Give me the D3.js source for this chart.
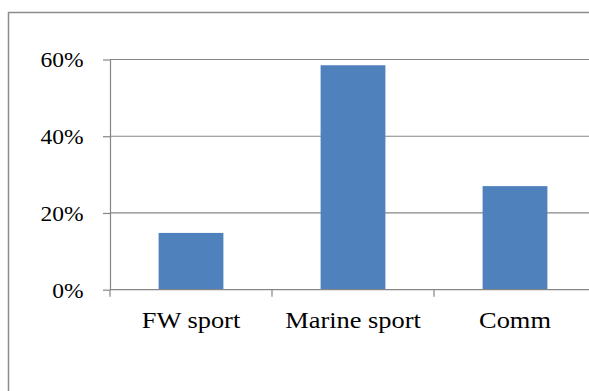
<!DOCTYPE html>
<html>
<head>
<meta charset="utf-8">
<script src="https://cdn.jsdelivr.net/npm/d3@7"></script>
<style>
  html, body { margin: 0; padding: 0; background: #fff; }
  svg { display: block; }
</style>
</head>
<body>
<svg id="chart" width="589" height="391"></svg>
<script>
const categories = ['FW sport', 'Marine sport', 'Comm'];
const values = [0.148, 0.585, 0.27];
const yTicks = [0, 0.2, 0.4, 0.6];

const FONT = "'Liberation Serif', 'Times New Roman', serif";

const svg = d3.select('#chart');

const plot = { left: 110, right: 596, top: 59.5, bottom: 289.7 };

// outer chart frame (cut off at right and bottom)
svg.append('rect')
  .attr('x', 8.5)
  .attr('y', 12.5)
  .attr('width', 620)
  .attr('height', 420)
  .attr('fill', 'none')
  .attr('stroke', '#8c8c8c')
  .attr('stroke-width', 1.5);

const x = d3.scaleBand()
  .domain(categories)
  .range([plot.left, plot.right])
  .paddingInner(0.6)
  .paddingOuter(0.3);

const y = d3.scaleLinear()
  .domain([0, 0.6])
  .range([plot.bottom, plot.top]);

// gridlines
svg.append('g')
  .selectAll('line')
  .data(yTicks.filter(d => d > 0))
  .enter()
  .append('line')
  .attr('x1', plot.left)
  .attr('x2', plot.right)
  .attr('y1', d => y(d))
  .attr('y2', d => y(d))
  .attr('stroke', '#868686')
  .attr('stroke-width', 1.2);

// bars
svg.append('g')
  .selectAll('rect')
  .data(categories)
  .enter()
  .append('rect')
  .attr('x', d => x(d))
  .attr('y', (d, i) => y(values[i]))
  .attr('width', x.bandwidth())
  .attr('height', (d, i) => y(0) - y(values[i]))
  .attr('fill', '#4F81BD');

// y axis
const yAxis = svg.append('g')
  .attr('transform', `translate(${plot.left},0)`)
  .call(d3.axisLeft(y).tickValues(yTicks).tickSize(7).tickSizeOuter(0).tickFormat(d3.format('.0%')));
yAxis.select('.domain').attr('stroke', '#868686').attr('stroke-width', 1.2);
yAxis.selectAll('.tick line').attr('stroke', '#868686').attr('stroke-width', 1.2);
yAxis.selectAll('.tick text')
  .attr('x', null)
  .attr('dy', null)
  .attr('transform', 'translate(-26.5,7.3) scale(1.12,1)')
  .attr('fill', '#000')
  .style('font-family', FONT)
  .style('font-size', '21px');

// x axis
const bandStep = x.step();
const xAxis = svg.append('g')
  .attr('transform', `translate(0,${plot.bottom})`);
xAxis.append('line')
  .attr('x1', plot.left)
  .attr('x2', plot.right)
  .attr('stroke', '#868686')
  .attr('stroke-width', 1.2);
xAxis.selectAll('.xtick')
  .data(categories)
  .enter()
  .append('line')
  .attr('x1', d => x(d) + x.bandwidth() / 2 - bandStep / 2)
  .attr('x2', d => x(d) + x.bandwidth() / 2 - bandStep / 2)
  .attr('y1', 0)
  .attr('y2', 7)
  .attr('stroke', '#868686')
  .attr('stroke-width', 1.2);
xAxis.selectAll('.xlabel')
  .data(categories)
  .enter()
  .append('text')
  .attr('transform', d => `translate(${x(d) + x.bandwidth() / 2},38.6) scale(1.1,1)`)
  .attr('text-anchor', 'middle')
  .attr('fill', '#000')
  .style('font-family', FONT)
  .style('font-size', '24px')
  .text(d => d);
</script>
</body>
</html>
